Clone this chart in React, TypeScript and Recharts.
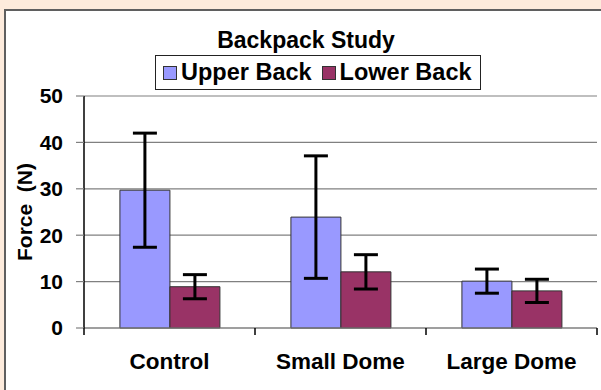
import React from 'react';
import { BarChart, Bar, XAxis, YAxis, CartesianGrid, ErrorBar, Legend } from 'recharts';

const categories = ['Control', 'Small Dome', 'Large Dome'];
const upperBack = [29.7, 23.9, 10.1];
const upperBackErr = [12.3, 13.2, 2.6];
const lowerBack = [8.9, 12.1, 8.0];
const lowerBackErr = [2.6, 3.7, 2.5];
const yTicks = [0, 10, 20, 30, 40, 50];
const seriesNames = ['Upper Back', 'Lower Back'];
const seriesColors = ['#9999FF', '#993366'];
const chartTitle = 'Backpack Study';
const yAxisTitle = 'Force  (N)';

const data = categories.map((name, i) => ({
  name,
  upper: upperBack[i],
  upperErr: upperBackErr[i],
  lower: lowerBack[i],
  lowerErr: lowerBackErr[i],
}));

const FONT = '"Liberation Sans", Arial, Helvetica, sans-serif';

const CategoryTick = (props: any) => {
  const { x, y, payload, index } = props;
  const half = payload && payload.offset ? payload.offset : 0;
  return (
    <g>
      <line x1={x - half} x2={x - half} y1={y} y2={y + 7} stroke="#000" strokeWidth={1.5} />
      {index === categories.length - 1 && (
        <line x1={x + half} x2={x + half} y1={y} y2={y + 7} stroke="#000" strokeWidth={1.5} />
      )}
      <text x={x} y={y + 41} textAnchor="middle" fontFamily={FONT} fontWeight="bold" fontSize={22.5} fill="#000">
        {payload.value}
      </text>
    </g>
  );
};

const renderLegend = (props: any) => {
  const payload = [...(props.payload || [])].sort(
    (a: any, b: any) => seriesNames.indexOf(a.value) - seriesNames.indexOf(b.value)
  );
  return (
    <div
      style={{
        display: 'flex',
        alignItems: 'center',
        border: '1px solid #222',
        background: '#fff',
        padding: '0 8px 0 7px',
        height: 33,
        fontFamily: FONT,
        fontWeight: 'bold',
        fontSize: 23.5,
        color: '#000',
        whiteSpace: 'nowrap',
      }}
    >
      {payload.map((entry: any, i: number) => (
        <span key={i} style={{ display: 'flex', alignItems: 'center', marginRight: i < payload.length - 1 ? 10 : 0 }}>
          <span
            style={{
              display: 'inline-block',
              width: 12,
              height: 12,
              background: entry.color,
              border: '1px solid #333',
              marginRight: 4,
            }}
          />
          {entry.value}
        </span>
      ))}
    </div>
  );
};

const YLabel = (props: any) => {
  const vb = props.viewBox || { x: 0, y: 0, width: 0, height: 0 };
  const cx = vb.x + 24;
  const cy = vb.y + vb.height / 2;
  return (
    <text
      x={cx}
      y={cy}
      transform={`rotate(-90 ${cx} ${cy})`}
      textAnchor="middle"
      dominantBaseline="central"
      fontFamily={FONT}
      fontWeight="bold"
      fontSize={21}
      fill="#000"
      style={{ whiteSpace: 'pre' }}
    >
      {yAxisTitle}
    </text>
  );
};

export default function App() {
  return (
    <div style={{ position: 'absolute', left: 0, top: 0, width: 601, height: 390, background: '#FDEBDC', overflow: 'hidden' }}>
      <div
        style={{
          position: 'absolute',
          left: 4,
          top: 9,
          width: 700,
          height: 500,
          background: '#fff',
          borderLeft: '2px solid #5f5f5f',
          borderTop: '2px solid #5f5f5f',
        }}
      />
      <div
        style={{
          position: 'absolute',
          left: 0,
          top: 29,
          width: 612,
          textAlign: 'center',
          fontFamily: FONT,
          fontWeight: 'bold',
          fontSize: 23,
          lineHeight: '22px',
          color: '#000',
        }}
      >
        {chartTitle}
      </div>
      <div style={{ position: 'absolute', left: 0, top: 0 }}>
        <BarChart
          width={601}
          height={390}
          data={data}
          margin={{ top: 96, right: 4, left: 0, bottom: 0 }}
          barGap={0}
          barCategoryGap="21%"
        >
          <CartesianGrid horizontal vertical={false} stroke="#808080" strokeWidth={1.2} />
          <XAxis
            dataKey="name"
            height={62}
            axisLine={{ stroke: '#808080', strokeWidth: 1.2 }}
            tickLine={false}
            tickSize={0}
            tickMargin={0}
            tick={<CategoryTick />}
            interval={0}
          />
          <YAxis
            width={84}
            domain={[0, 50]}
            ticks={yTicks}
            interval={0}
            axisLine={{ stroke: '#000', strokeWidth: 1.5 }}
            tickLine={{ stroke: '#808080', strokeWidth: 1.2 }}
            tickSize={8}
            tickMargin={13}
            tick={{ fill: '#000', fontFamily: FONT, fontWeight: 'bold', fontSize: 21 }}
            label={<YLabel />}
          />
          <YAxis
            yAxisId="r"
            orientation="right"
            width={0}
            domain={[0, 50]}
            axisLine={{ stroke: '#808080', strokeWidth: 1.2 }}
            tickLine={false}
            tick={false}
          />
          <Legend
            layout="horizontal"
            verticalAlign="middle"
            align="center"
            content={renderLegend}
            wrapperStyle={{ top: 55, left: 155, width: 'auto', height: 'auto' }}
          />
          <Bar dataKey="upper" name={seriesNames[0]} fill={seriesColors[0]} stroke="#333" strokeWidth={1} isAnimationActive={false}>
            <ErrorBar dataKey="upperErr" width={12} strokeWidth={3} stroke="#000" direction="y" />
          </Bar>
          <Bar dataKey="lower" name={seriesNames[1]} fill={seriesColors[1]} stroke="#333" strokeWidth={1} isAnimationActive={false}>
            <ErrorBar dataKey="lowerErr" width={12} strokeWidth={3} stroke="#000" direction="y" />
          </Bar>
        </BarChart>
      </div>
    </div>
  );
}
